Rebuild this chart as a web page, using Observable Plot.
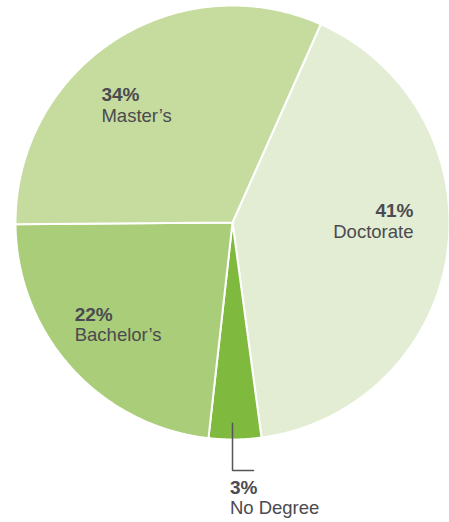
<!DOCTYPE html>
<html>
<head>
<meta charset="utf-8">
<script src="https://cdn.jsdelivr.net/npm/d3@7"></script>
<script src="https://cdn.jsdelivr.net/npm/@observablehq/plot@0.6"></script>
<style>
  html, body { margin: 0; padding: 0; background: #fff; }
  #chart svg { display: block; }
</style>
</head>
<body>
<div id="chart"></div>
<script>
// Data (clockwise from the top-right boundary)
const slices = ["Doctorate", "No Degree", "Bachelor's", "Master's"];
const shares = [41.2, 3.9, 23.1, 31.8];          // share of the circle as drawn
const pctLabels = ["41%", "3%", "22%", "34%"];   // printed labels
const colors = ["#e2edd3", "#7fb93d", "#aacd7a", "#c5dc9e"];

// Layout (unit-circle coordinates, y pointing down)
const startDeg = 24;
const labelPos = [
  {x: 0.834, y: -0.024, anchor: "end"},
  {x: -0.012, y: 1.249, anchor: "start"},
  {x: -0.727, y: 0.452, anchor: "start"},
  {x: -0.604, y: -0.558, anchor: "start"}
];
const lineGap = 0.094;

const start = startDeg * Math.PI / 180;
const arcs = d3.pie().sort(null).startAngle(start).endAngle(start + 2 * Math.PI)(shares);

const pts = [];
arcs.forEach((a, i) => {
  const key = slices[i];
  pts.push({key, x: 0, y: 0});
  const n = Math.max(4, Math.ceil((a.endAngle - a.startAngle) / (Math.PI / 360)));
  for (let k = 0; k <= n; k++) {
    const t = a.startAngle + (a.endAngle - a.startAngle) * k / n;
    pts.push({key, x: Math.sin(t), y: -Math.cos(t)});
  }
  pts.push({key, x: 0, y: 0});
});

const labels = slices.map((s, i) => ({
  name: s.replace("'", "\u2019"),
  pct: pctLabels[i],
  x: labelPos[i].x,
  y: labelPos[i].y,
  anchor: labelPos[i].anchor
}));

// leader for "No Degree"
const leader = [
  {x: 0, y: 0.925},
  {x: 0, y: 1.143},
  {x: 0.097, y: 1.143}
];

const font = "'Liberation Sans', Arial, Helvetica, sans-serif";
const chart = Plot.plot({
  width: 449,
  height: 522,
  margin: 0,
  style: {background: "#fff", fontFamily: font},
  x: {domain: [-1, 1], range: [15, 449], axis: null},
  y: {domain: [-1, 1], range: [5, 439], axis: null},
  color: {domain: slices, range: colors},
  marks: [
    Plot.line(pts, {x: "x", y: "y", z: "key", fill: "key", stroke: "#fff", strokeWidth: 2, curve: "linear"}),
    Plot.line(leader, {x: "x", y: "y", stroke: "#55555a", strokeWidth: 1.5, strokeLinejoin: "miter"}),
    ...["start", "end"].map(anc => Plot.text(labels.filter(d => d.anchor === anc), {
      x: "x", y: "y", text: "pct", textAnchor: anc, lineAnchor: "bottom",
      fontSize: 19, fontWeight: "bold", fill: "#4a4a50", fontFamily: font
    })),
    ...["start", "end"].map(anc => Plot.text(labels.filter(d => d.anchor === anc), {
      x: "x", y: d => d.y + lineGap, text: "name", textAnchor: anc, lineAnchor: "bottom",
      fontSize: 18.5, fill: "#4a4a50", fontFamily: font
    }))
  ]
});
document.getElementById("chart").appendChild(chart);
</script>
</body>
</html>
